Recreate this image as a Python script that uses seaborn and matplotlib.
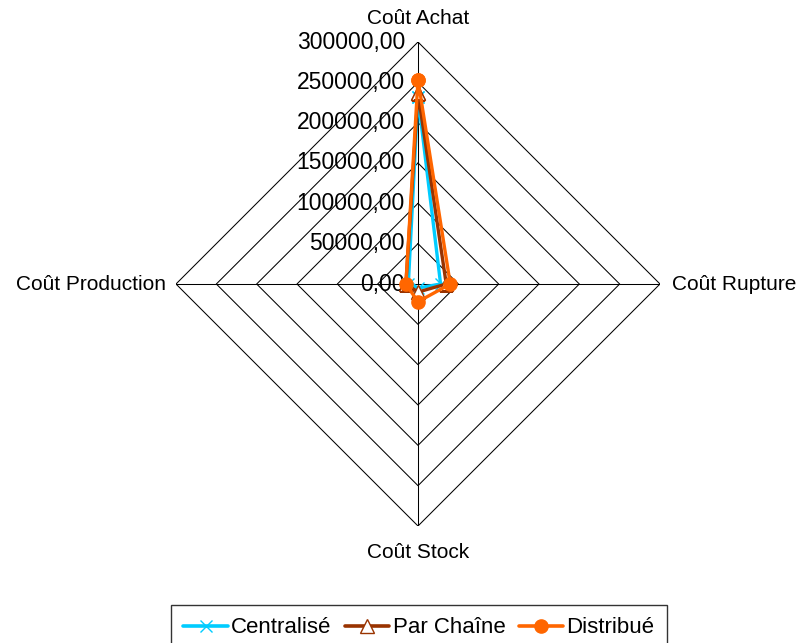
import numpy as np
import matplotlib
matplotlib.use("Agg")
import matplotlib.pyplot as plt
import seaborn as sns
import pandas as pd
from matplotlib.lines import Line2D

# data
categories = ["Coût Achat", "Coût Rupture", "Coût Stock", "Coût Production"]
centralise = [232000, 28000, 5000, 12000]
par_chaine = [237000, 35000, 10000, 15000]
distribue = [253000, 40000, 22000, 15000]
ring_values = [0, 50000, 100000, 150000, 200000, 250000, 300000]
ring_labels = ["0,00", "50000,00", "100000,00", "150000,00",
               "200000,00", "250000,00", "300000,00"]

series = {
    "Centralisé": (centralise, "#00CCFF", "x", "#00CCFF", 9),
    "Par Chaîne": (par_chaine, "#993300", "^", "white", 9.5),
    "Distribué": (distribue, "#FF6600", "o", "#FF6600", 9.5),
}

sns.set_theme(style="white")
plt.rcParams["font.family"] = ["Liberation Sans", "DejaVu Sans"]
plt.rcParams["text.color"] = "black"

FS_CAT = 15
FS_TICK = 16.5
FS_LEG = 16

fig = plt.figure(figsize=(7.98, 6.43), dpi=100)
# polar axes centred at (418, 284) px, radius 242 px
ax = fig.add_axes([176 / 798, 117 / 643, 484 / 798, 484 / 643], projection="polar")
ax.set_theta_offset(np.pi / 2)
ax.set_theta_direction(-1)
ax.set_ylim(0, ring_values[-1])
ax.grid(False)
ax.spines["polar"].set_visible(False)
ax.set_xticks([])
ax.set_yticks([])
ax.patch.set_alpha(0)

n = len(categories)
theta = np.linspace(0, 2 * np.pi, n, endpoint=False)
theta_closed = np.append(theta, theta[0])

# diamond grid and spokes
for r in ring_values[1:]:
    ax.plot(theta_closed, [r] * (n + 1), color="black", lw=0.75, zorder=1)
for t in theta:
    ax.plot([t, t], [0, ring_values[-1]], color="black", lw=0.75, zorder=1)

# radial value labels
for r, lab in zip(ring_values, ring_labels):
    ax.annotate(lab, xy=(0, r), xytext=(-13, 0), textcoords="offset pixels",
                ha="right", va="center", fontsize=FS_TICK, color="black",
                annotation_clip=False)

# category labels
offsets = [((0, 23), "center", "center"),
           ((12, 0), "left", "center"),
           ((0, -26), "center", "center"),
           ((-10, 0), "right", "center")]
for t, cat, (off, ha, va) in zip(theta, categories, offsets):
    ax.annotate(cat, xy=(t, ring_values[-1]), xytext=off, textcoords="offset pixels",
                ha=ha, va=va, fontsize=FS_CAT, color="black", annotation_clip=False)

handles = []
for i, (name, (vals, col, mk, mfc, ms)) in enumerate(series.items()):
    df = pd.DataFrame({"theta": theta_closed, "value": vals + vals[:1]})
    sns.lineplot(data=df, x="theta", y="value", sort=False, estimator=None,
                 ax=ax, color=col, lw=2.4, marker=mk, markersize=ms,
                 markerfacecolor=mfc, markeredgecolor=col,
                 markeredgewidth=1.0, zorder=3 + i, legend=False)
    handles.append(Line2D([], [], color=col, lw=2.6, marker=mk, markersize=ms,
                          markerfacecolor=mfc, markeredgecolor=col,
                          markeredgewidth=1.0, label=name))

ax.set_xlabel("")
ax.set_ylabel("")

leg = fig.legend(handles=handles, loc="lower center", bbox_to_anchor=(0.525, -0.012),
                 ncol=3, fontsize=FS_LEG, frameon=True, fancybox=False,
                 edgecolor="black", handlelength=2.0, handletextpad=0.15,
                 columnspacing=0.6, borderpad=0.55, borderaxespad=0)
leg.get_frame().set_linewidth(1.0)

fig.savefig("out.png", dpi=100, facecolor="white")
